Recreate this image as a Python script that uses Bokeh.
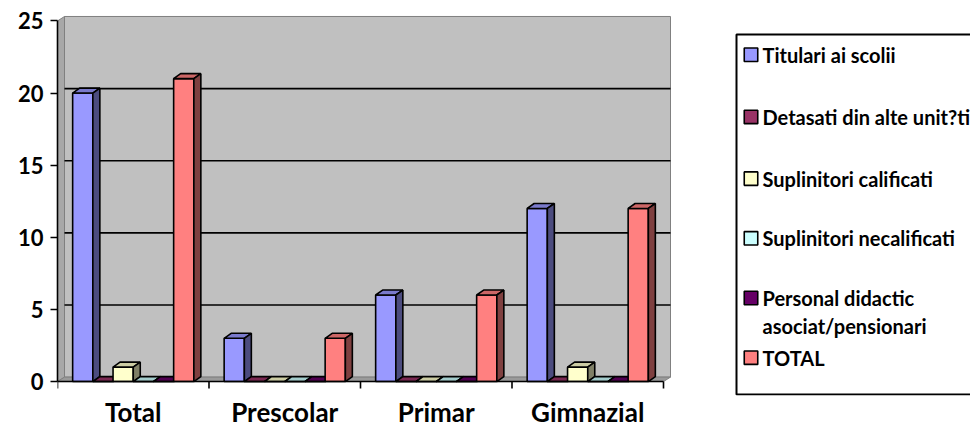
from bokeh.plotting import figure
from bokeh.models import ColumnDataSource, Range1d, FixedTicker
from bokeh.embed import file_html
from bokeh.resources import INLINE
from bokeh.core.properties import value

# ---------------- data ----------------
categories = ["Total", "Prescolar", "Primar", "Gimnazial"]
series_names = ["Titulari ai scolii", "Detasati din alte unit?ti", "Suplinitori calificati",
                "Suplinitori necalificati", "Personal didactic\nasociat/pensionari", "TOTAL"]
titulari = [20, 3, 6, 12]
detasati = [0, 0, 0, 0]
supl_calificati = [1, 0, 0, 1]
supl_necalificati = [0, 0, 0, 0]
personal_asociat = [0, 0, 0, 0]
total = [21, 3, 6, 12]
y_ticks = [0, 5, 10, 15, 20, 25]

series_values = [titulari, detasati, supl_calificati, supl_necalificati, personal_asociat, total]
front_colors = ["#9999FF", "#993366", "#FFFFCC", "#CCFFFF", "#660066", "#FF8080"]

FONT = "Lato"

def shade(hex_color, f):
    h = hex_color.lstrip("#")
    r, g, b = (int(h[i:i + 2], 16) for i in (0, 2, 4))
    return "#%02x%02x%02x" % (int(r * f), int(g * f), int(b * f))

# ---------------- layout (pixels) ----------------
W, H = 970, 430
left_px, top_px, bottom_border = 57, 10, 33
frame_bottom = H - bottom_border          # pixel row of frame bottom
zero_px, top_tick_px = 383, 20.5          # pixel rows of value 0 and 25
px_x = 151.5                               # pixels per category
px_y = (zero_px - top_tick_px) / 25.0      # pixels per value unit

bar_dx, bar_dy = 7 / px_x, 5 / px_y        # 3D depth of bars
wall_dx, wall_dy = 7 / px_x, 4.5 / px_y    # 3D depth of walls
n_cat = len(categories)
n_ser = len(series_values)
group_pad = 0.1
bar_w = (1 - 2 * group_pad) / n_ser
y_top = y_ticks[-1]

x_end = (W - left_px) / px_x
y_start = -(frame_bottom - zero_px) / px_y
y_end = (zero_px - top_px) / px_y

p = figure(width=W, height=H, output_backend="svg", toolbar_location=None,
           x_range=Range1d(0, x_end), y_range=Range1d(y_start, y_end),
           min_border_left=left_px, min_border_right=0, min_border_top=top_px,
           min_border_bottom=bottom_border,
           background_fill_color="white", border_fill_color="white")
p.outline_line_color = None
p.grid.visible = False

# back wall
p.quad(left=[wall_dx], right=[n_cat + wall_dx], bottom=[wall_dy], top=[y_top + wall_dy],
       fill_color="#C0C0C0", line_color="#808080", line_width=1)
# left side wall
p.patch(x=[0, 0, wall_dx, wall_dx], y=[0, y_top, y_top + wall_dy, wall_dy],
        fill_color="#A8A8A8", line_color="#808080", line_width=1)
# floor
p.patch(x=[0, n_cat, n_cat + wall_dx, wall_dx], y=[0, 0, wall_dy, wall_dy],
        fill_color="#9A9A9A", line_color="#808080", line_width=1)
# gridlines on back wall
grid_vals = [v for v in y_ticks if 0 < v < y_top]
p.segment(x0=[wall_dx] * len(grid_vals), x1=[n_cat + wall_dx] * len(grid_vals),
          y0=[v + wall_dy for v in grid_vals], y1=[v + wall_dy for v in grid_vals],
          line_color="black", line_width=1.6)

# bars
for j, vals in enumerate(series_values):
    lefts = [i + group_pad + j * bar_w for i in range(n_cat)]
    rights = [l + bar_w for l in lefts]
    src = ColumnDataSource(dict(left=lefts, right=rights, bottom=[0] * n_cat, top=vals))
    p.quad(left="left", right="right", bottom="bottom", top="top", source=src,
           fill_color=front_colors[j], line_color="black", line_width=1.6)
    top_xs = [[l, r, r + bar_dx, l + bar_dx] for l, r in zip(lefts, rights)]
    top_ys = [[v, v, v + bar_dy, v + bar_dy] for v in vals]
    p.patches(xs=top_xs, ys=top_ys, fill_color=shade(front_colors[j], 0.8),
              line_color="black", line_width=1.6)
    side_xs = [[r, r + bar_dx, r + bar_dx, r] for r in rights]
    side_ys = [[0, bar_dy, v + bar_dy, v] for v in vals]
    p.patches(xs=side_xs, ys=side_ys, fill_color=shade(front_colors[j], 0.5),
              line_color="black", line_width=1.6)

# front category axis line and category boundary ticks
p.segment(x0=[0], x1=[n_cat], y0=[0], y1=[0], line_color="black", line_width=1.6)
bounds = list(range(n_cat + 1))
p.segment(x0=bounds, x1=bounds, y0=[0] * len(bounds), y1=[-7 / px_y] * len(bounds),
          line_color="black", line_width=1.6)

# y axis
yax = p.yaxis[0]
yax.ticker = FixedTicker(ticks=y_ticks)
yax.bounds = (0, y_top)
yax.axis_line_width = 1.6
yax.axis_line_color = "black"
yax.major_tick_out = 7
yax.major_tick_in = 0
yax.major_tick_line_width = 1.6
yax.minor_tick_out = 0
yax.minor_tick_in = 0
yax.major_label_standoff = 7
yax.major_label_text_font = FONT
yax.major_label_text_font_style = "bold"
yax.major_label_text_font_size = "22px"
yax.major_label_text_color = "black"

# x axis (labels only; line drawn at value 0 above)
xax = p.xaxis[0]
xax.ticker = FixedTicker(ticks=[i + 0.5 for i in range(n_cat)], minor_ticks=[])
xax.major_label_overrides = {i + 0.5: c for i, c in enumerate(categories)}
xax.axis_line_color = None
xax.major_tick_line_color = None
xax.minor_tick_line_color = None
xax.major_tick_out = 0
xax.major_tick_in = 0
xax.minor_tick_out = 0
xax.minor_tick_in = 0
xax.major_label_standoff = 0
xax.major_label_text_font = FONT
xax.major_label_text_font_style = "bold"
xax.major_label_text_font_size = "26px"
xax.major_label_text_color = "black"

# ---------------- legend (pixel coordinates via extra ranges) ----------------
p.extra_x_ranges["px"] = Range1d(left_px, W)
p.extra_y_ranges["py"] = Range1d(frame_bottom, top_px)

leg_kw = dict(x_range_name="px", y_range_name="py")
p.quad(left=[736], right=[1000], top=[34], bottom=[min(402, frame_bottom - 1)],
       fill_color="white", line_color="black", line_width=2, **leg_kw)
item_y = [54.5, 117, 179, 239, 299, 359]
p.rect(x=[750.5] * n_ser, y=item_y, width=13.5, height=13.5, fill_color=front_colors,
       line_color="black", line_width=1.6, **leg_kw)
tx, ty, tt = [], [], []
for name, yy in zip(series_names, item_y):
    for k, line in enumerate(name.split("\n")):
        tx.append(762)
        ty.append(yy + k * 28)
        tt.append(line)
p.text(x=tx, y=ty, text=tt, text_font=value(FONT), text_font_style="bold",
       text_font_size="20px", text_baseline="middle", text_align="left", text_color="black",
       **leg_kw)

open("out.html", "w").write(file_html(p, INLINE))
